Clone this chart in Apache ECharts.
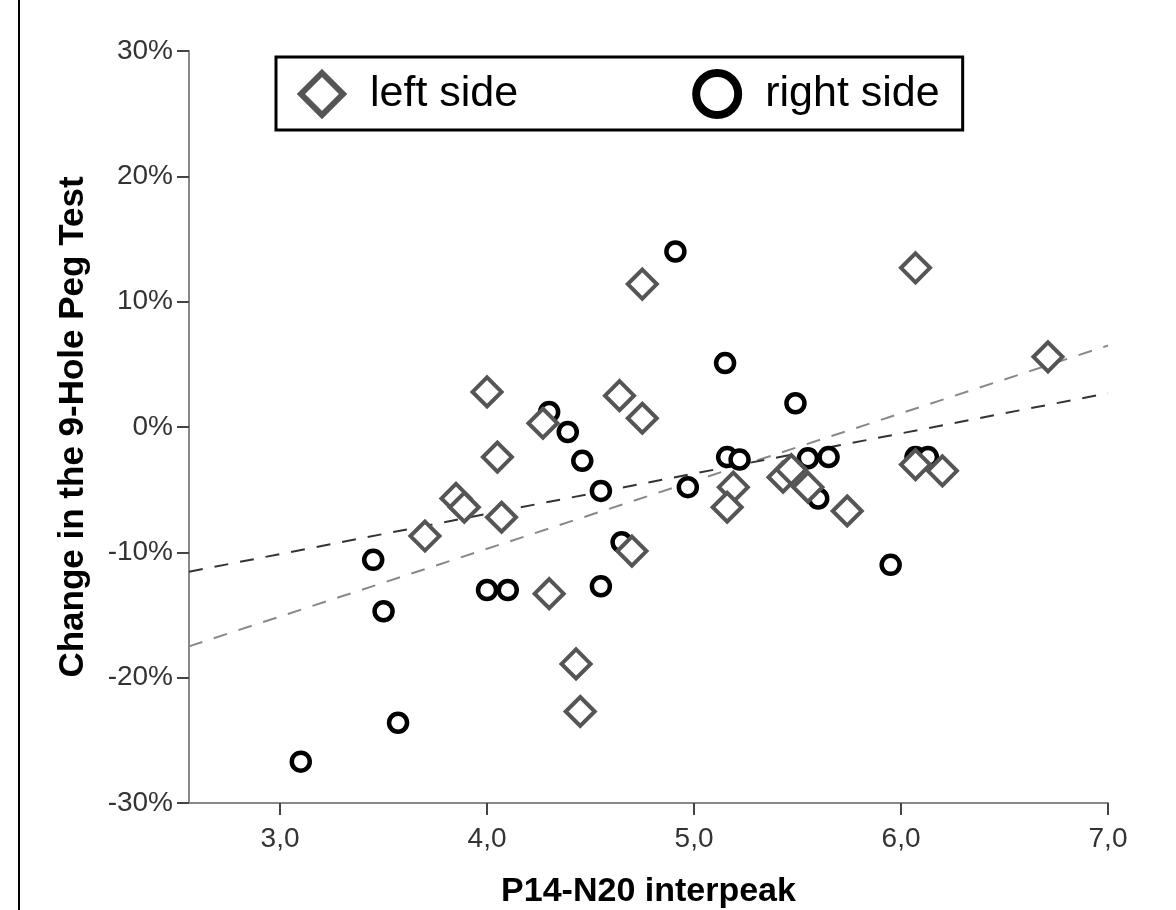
<!DOCTYPE html>
<html><head><meta charset="utf-8">
<script src="https://cdn.jsdelivr.net/npm/echarts@6/dist/echarts.min.js"></script>
<style>html,body{margin:0;padding:0;background:#fff}#c{width:1176px;height:910px}</style>
</head><body><div id="c"></div>
<script>
// X axis range and tick values (P14-N20 interpeak)
const xRange = [2.56, 7.0];
const xTicks = [3, 4, 5, 6, 7];
// Y axis range (%) and tick step
const yRange = [-30, 30];
const yStep = 10;

// left side (diamonds): [interpeak, change %]
const leftSide = [
  [4.75, 11.4], [6.07, 12.7], [6.71, 5.6], [4.00, 2.8], [4.27, 0.3], [4.64, 2.5],
  [4.75, 0.7], [4.05, -2.4], [3.85, -5.7], [3.89, -6.4], [4.07, -7.2], [3.70, -8.7],
  [4.70, -9.9], [4.30, -13.3], [4.43, -18.9], [4.45, -22.7], [5.19, -4.8], [5.16, -6.4],
  [5.43, -4.0], [5.47, -3.4], [5.55, -4.8], [5.74, -6.7], [6.07, -3.0], [6.20, -3.5]
];
// right side (circles)
const rightSide = [
  [4.91, 14.0], [5.15, 5.1], [5.49, 1.9], [4.30, 1.2], [4.39, -0.4], [4.46, -2.7],
  [4.55, -5.1], [4.97, -4.8], [5.16, -2.4], [5.22, -2.6], [5.55, -2.5], [5.65, -2.4],
  [5.60, -5.7], [6.07, -2.4], [6.13, -2.4], [5.95, -11.0], [4.65, -9.2], [4.55, -12.7],
  [4.00, -13.0], [4.10, -13.0], [3.45, -10.6], [3.50, -14.7], [3.57, -23.6], [3.10, -26.7]
];
// fit lines (end points)
const fitLeft = [[2.56, -17.5], [7.0, 6.5]];
const fitRight = [[2.56, -11.55], [7.0, 2.7]];

const FONT = "'Liberation Sans', Arial, sans-serif";
const chart = echarts.init(document.getElementById('c'), null, {renderer: 'canvas'});
chart.setOption({
  animation: false,
  backgroundColor: '#fff',
  grid: {left: 189, right: 68, top: 51, bottom: 107, containLabel: false, outerBoundsMode: 'none'},
  legend: {
    left: 276, top: 57,
    orient: 'horizontal',
    padding: [12, 23, 11, 22],
    itemWidth: 42, itemHeight: 42, itemGap: 174,
    borderColor: '#000', borderWidth: 3, backgroundColor: '#fff',
    selectedMode: false,
    textStyle: {fontFamily: FONT, fontSize: 43, color: '#000', lineHeight: 44, padding: [0, 0, 0, 22]},
    data: [
      {name: 'left side', icon: 'diamond', itemStyle: {color: '#fff', borderColor: '#555', borderWidth: 6}},
      {name: 'right side', icon: 'circle', itemStyle: {color: '#fff', borderColor: '#000', borderWidth: 8}}
    ]
  },
  xAxis: {
    type: 'value', min: xRange[0], max: xRange[1],
    splitLine: {show: false},
    axisLine: {show: true, onZero: false, lineStyle: {color: '#888', width: 2}},
    axisTick: {show: true, customValues: xTicks, length: 12, lineStyle: {color: '#444', width: 2}},
    axisLabel: {customValues: xTicks, formatter: v => v.toFixed(1).replace('.', ','),
      fontFamily: FONT, fontSize: 28, color: '#333', margin: 22},
    name: 'P14-N20 interpeak', nameLocation: 'middle', nameGap: 72, nameMoveOverlap: false,
    nameTextStyle: {fontFamily: FONT, fontSize: 34, fontWeight: 'bold', color: '#000'}
  },
  yAxis: {
    type: 'value', min: yRange[0], max: yRange[1], interval: yStep,
    splitLine: {show: false},
    axisLine: {show: true, onZero: false, lineStyle: {color: '#888', width: 2}},
    axisTick: {show: true, length: 12, lineStyle: {color: '#444', width: 2}},
    axisLabel: {formatter: '{value}%', fontFamily: FONT, fontSize: 28, color: '#333', margin: 16},
    name: 'Change in the 9-Hole Peg Test', nameLocation: 'middle', nameGap: 98, nameRotate: 90, nameMoveOverlap: false,
    nameTextStyle: {fontFamily: FONT, fontSize: 35, fontWeight: 'bold', color: '#000'}
  },
  graphic: [{
    type: 'line', shape: {x1: 19, y1: 0, x2: 19, y2: 910},
    style: {stroke: '#000', lineWidth: 2}, silent: true
  }],
  series: [
    {
      name: 'left side', type: 'scatter', data: leftSide, symbol: 'diamond', symbolSize: 29, z: 4,
      itemStyle: {color: '#fff', borderColor: '#555', borderWidth: 4, opacity: 1},
      emphasis: {disabled: true}
    },
    {
      name: 'right side', type: 'scatter', data: rightSide, symbol: 'circle', symbolSize: 18, z: 3,
      itemStyle: {color: '#fff', borderColor: '#000', borderWidth: 4.5, opacity: 1},
      emphasis: {disabled: true}
    },
    {
      name: 'fit left', type: 'line', data: fitLeft, showSymbol: false, symbol: 'none', z: 2, silent: true,
      lineStyle: {color: '#888', width: 2, type: [14, 12]}
    },
    {
      name: 'fit right', type: 'line', data: fitRight, showSymbol: false, symbol: 'none', z: 2, silent: true,
      lineStyle: {color: '#333', width: 2, type: [14, 12]}
    }
  ]
});
</script>
</body></html>
